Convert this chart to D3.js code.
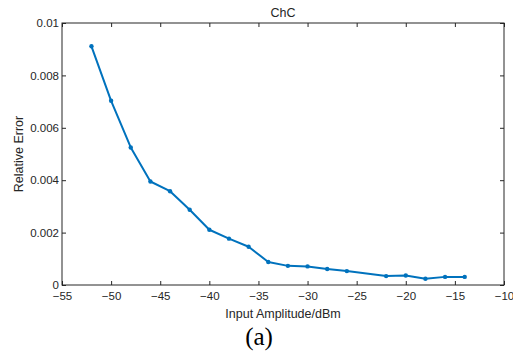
<!DOCTYPE html>
<html>
<head>
<meta charset="utf-8">
<script src="https://cdn.jsdelivr.net/npm/d3@7"></script>
<style>
  body { margin: 0; background: #fff; }
  svg { display: block; }
  .axis text { font-family: "Liberation Sans", Arial, sans-serif; font-size: 11.5px; fill: #262626; }
  .axis path, .axis line { stroke: #262626; }
  .lbl { font-family: "Liberation Sans", Arial, sans-serif; font-size: 12.5px; fill: #262626; }
</style>
</head>
<body>
<div id="chart"></div>
<script>
// input amplitude (dBm) and relative error
const amplitude = [-52, -50, -48, -46, -44, -42, -40, -38, -36, -34, -32, -30, -28, -26, -22, -20, -18, -16, -14];
const relError = [0.00911, 0.00703, 0.00525, 0.00395, 0.00358, 0.00287, 0.00211, 0.00177, 0.00146,
                  0.00088, 0.00073, 0.00071, 0.00061, 0.00053, 0.00034, 0.00036, 0.00024, 0.00031, 0.00031];
const xTicks = [-55, -50, -45, -40, -35, -30, -25, -20, -15, -10];
const yTicks = [0, 0.002, 0.004, 0.006, 0.008, 0.01];

const width = 513, height = 351;
const margin = {top: 23, right: 9, bottom: 66, left: 62};
const w = width - margin.left - margin.right;
const h = height - margin.top - margin.bottom;

const svg = d3.select('#chart').append('svg')
  .attr('width', width)
  .attr('height', height);

const g = svg.append('g')
  .attr('transform', 'translate(' + margin.left + ',' + margin.top + ')');

const x = d3.scaleLinear().domain([-55, -10]).range([0, w]);
const y = d3.scaleLinear().domain([0, 0.01]).range([h, 0]);

// box
g.append('rect')
  .attr('width', w).attr('height', h)
  .attr('fill', 'none').attr('stroke', '#262626').attr('stroke-width', 1);

g.append('g').attr('class', 'axis')
  .attr('transform', 'translate(0,' + h + ')')
  .call(d3.axisBottom(x).tickValues(xTicks).tickSize(-4).tickPadding(7).tickFormat(d3.format('d')))
  .call(a => a.select('.domain').remove());

g.append('g').attr('class', 'axis')
  .call(d3.axisTop(x).tickValues(xTicks).tickSize(-4).tickFormat(''))
  .call(a => a.select('.domain').remove());

g.append('g').attr('class', 'axis')
  .call(d3.axisLeft(y).tickValues(yTicks).tickSize(-4).tickPadding(3).tickFormat(d => d === 0 ? '0' : String(+d.toFixed(3))))
  .call(a => a.select('.domain').remove());

g.append('g').attr('class', 'axis')
  .attr('transform', 'translate(' + w + ',0)')
  .call(d3.axisRight(y).tickValues(yTicks).tickSize(-4).tickFormat(''))
  .call(a => a.select('.domain').remove());

const pts = amplitude.map((a, i) => [a, relError[i]]);

g.append('path')
  .datum(pts)
  .attr('fill', 'none')
  .attr('stroke', '#0072BD')
  .attr('stroke-width', 2)
  .attr('stroke-linejoin', 'round')
  .attr('d', d3.line().x(d => x(d[0])).y(d => y(d[1])));

g.selectAll('.dot').data(pts)
  .enter().append('circle')
  .attr('class', 'dot')
  .attr('cx', d => x(d[0]))
  .attr('cy', d => y(d[1]))
  .attr('r', 2.2)
  .attr('fill', '#0072BD');

// labels
svg.append('text').attr('class', 'lbl')
  .attr('x', margin.left + w / 2).attr('y', 17)
  .attr('text-anchor', 'middle')
  .text('ChC');

svg.append('text').attr('class', 'lbl')
  .attr('x', margin.left + w / 2).attr('y', 318)
  .attr('text-anchor', 'middle')
  .text('Input Amplitude/dBm');

svg.append('text').attr('class', 'lbl')
  .attr('transform', 'translate(23,' + (margin.top + h / 2) + ') rotate(-90)')
  .attr('text-anchor', 'middle')
  .text('Relative Error');

svg.append('text')
  .attr('x', 259).attr('y', 345)
  .attr('text-anchor', 'middle')
  .style('font-family', '"Liberation Serif", "Times New Roman", serif').style('font-size', '25px').style('fill', '#000')
  .text('(a)');
</script>
</body>
</html>
